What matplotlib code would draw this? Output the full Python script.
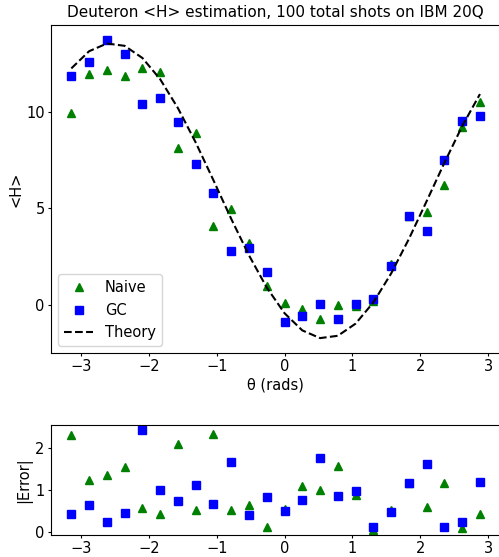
import numpy as np
import matplotlib
matplotlib.use("Agg")
import matplotlib.pyplot as plt

# angoli theta (rad) - 24 punti da -pi a 11pi/12
theta = np.array([-3.1416, -2.8798, -2.6180, -2.3562, -2.0944, -1.8326, -1.5708, -1.3090,
                  -1.0472, -0.7854, -0.5236, -0.2618, 0.0, 0.2618, 0.5236, 0.7854,
                  1.0472, 1.3090, 1.5708, 1.8326, 2.0944, 2.3562, 2.6180, 2.8798])

# valori teorici
theory = [12.25, 13.14, 13.54, 13.42, 12.79, 11.69, 10.19, 8.41,
          6.45, 4.45, 2.56, 0.89, -0.44, -1.33, -1.73, -1.61,
          -0.98, 0.12, 1.62, 3.41, 5.37, 7.36, 9.26, 10.92]

naive = [9.92, 11.95, 12.16, 11.88, 12.25, 12.07, 8.12, 8.88,
         4.10, 4.95, 3.19, 0.97, 0.09, -0.22, -0.74, -0.03,
         -0.05, 0.18, 2.10, 4.60, 4.83, 6.20, 9.19, 10.50]

gc = [11.85, 12.59, 13.74, 13.02, 10.40, 10.69, 9.48, 7.31,
      5.79, 2.78, 2.95, 1.71, -0.91, -0.57, 0.02, -0.76,
      0.05, 0.30, 2.02, 4.60, 3.83, 7.48, 9.52, 9.76]

err_naive = [2.30, 1.24, 1.36, 1.54, 0.57, 0.42, 2.09, 0.51,
             2.32, 0.52, 0.63, 0.10, 0.53, 1.09, 1.00, 1.57,
             0.87, 0.04, 0.52, 1.17, 0.58, 1.17, 0.09, 0.43]

err_gc = [0.41, 0.63, 0.24, 0.44, 2.42, 1.00, 0.74, 1.10,
          0.66, 1.67, 0.40, 0.83, 0.49, 0.75, 1.75, 0.84,
          0.97, 0.12, 0.46, 1.17, 1.60, 0.12, 0.24, 1.19]

fig = plt.figure(figsize=(4.99, 5.57), dpi=100)
ax = fig.add_axes([0.102, 0.3662, 0.9008, 0.5894])
ax_err = fig.add_axes([0.102, 0.0395, 0.9008, 0.1975])

ax.plot(theta, naive, 'g^', markersize=6, label="Naive")
ax.plot(theta, gc, 'bs', markersize=6, label="GC")
ax.plot(theta, theory, 'k--', linewidth=1.5, label="Theory")
# titolo centrato sulla parte visibile della figura
fig.text(0.552, 0.978, "Deuteron <H> estimation, 100 total shots on IBM 20Q",
         fontsize=11, ha='center', va='center')
ax.set_xlabel("θ (rads)", fontsize=10.5, labelpad=2)
ax.set_ylabel("<H>", fontsize=10.5, labelpad=2)
ax.set_yticks([0, 5, 10])
ax.tick_params(labelsize=10.5, length=2, pad=2.5)
ax.legend(loc='lower left', fontsize=10.5)

ax_err.plot(theta, err_naive, 'g^', markersize=6)
ax_err.plot(theta, err_gc, 'bs', markersize=6)
ax_err.set_ylabel("|Error|", fontsize=10.5, labelpad=2)
ax_err.set_xticks([-3, -2, -1, 0, 1, 2, 3])
ax_err.set_yticks([0, 1, 2])
ax_err.tick_params(labelsize=10.5, length=2, pad=2.5)

fig.savefig("out.png", dpi=100)
